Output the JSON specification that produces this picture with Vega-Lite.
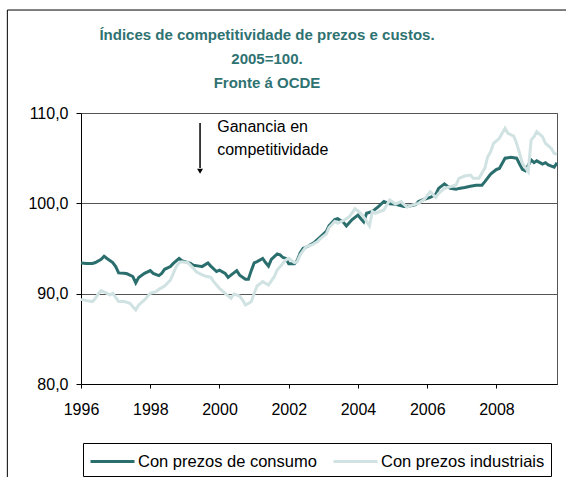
{
  "$schema": "https://vega.github.io/schema/vega-lite/v6.json",
  "width": 476,
  "height": 271,
  "autosize": {"type": "none"},
  "padding": {"left": 81, "top": 113, "right": 9, "bottom": 93},
  "background": "white",
  "title": {
    "text": ["Índices de competitividade de prezos e custos.", "2005=100.", "Fronte á OCDE"],
    "font": "Liberation Sans",
    "fontSize": 15,
    "fontWeight": "bold",
    "color": "#2F7272",
    "lineHeight": 24,
    "anchor": "middle",
    "frame": "group",
    "dx": -52,
    "dy": 95.5,
    "offset": 14
  },
  "datasets": {
    "series": [
      {"date": "1996-01-01", "series": "Con prezos de consumo", "value": 93.4},
      {"date": "1996-03-01", "series": "Con prezos de consumo", "value": 93.35},
      {"date": "1996-05-01", "series": "Con prezos de consumo", "value": 93.35},
      {"date": "1996-06-01", "series": "Con prezos de consumo", "value": 93.45},
      {"date": "1996-08-01", "series": "Con prezos de consumo", "value": 93.8},
      {"date": "1996-09-01", "series": "Con prezos de consumo", "value": 94.15},
      {"date": "1996-10-01", "series": "Con prezos de consumo", "value": 93.9},
      {"date": "1996-12-01", "series": "Con prezos de consumo", "value": 93.45},
      {"date": "1997-01-01", "series": "Con prezos de consumo", "value": 93.0},
      {"date": "1997-02-01", "series": "Con prezos de consumo", "value": 92.3},
      {"date": "1997-04-01", "series": "Con prezos de consumo", "value": 92.25},
      {"date": "1997-05-01", "series": "Con prezos de consumo", "value": 92.2},
      {"date": "1997-07-01", "series": "Con prezos de consumo", "value": 91.9},
      {"date": "1997-08-01", "series": "Con prezos de consumo", "value": 91.2},
      {"date": "1997-09-01", "series": "Con prezos de consumo", "value": 91.8},
      {"date": "1997-11-01", "series": "Con prezos de consumo", "value": 92.25},
      {"date": "1998-01-01", "series": "Con prezos de consumo", "value": 92.55},
      {"date": "1998-02-01", "series": "Con prezos de consumo", "value": 92.25},
      {"date": "1998-04-01", "series": "Con prezos de consumo", "value": 92.0},
      {"date": "1998-05-01", "series": "Con prezos de consumo", "value": 92.25},
      {"date": "1998-06-01", "series": "Con prezos de consumo", "value": 92.7},
      {"date": "1998-08-01", "series": "Con prezos de consumo", "value": 93.0},
      {"date": "1998-09-01", "series": "Con prezos de consumo", "value": 93.35},
      {"date": "1998-11-01", "series": "Con prezos de consumo", "value": 93.9},
      {"date": "1998-12-01", "series": "Con prezos de consumo", "value": 93.65},
      {"date": "1999-01-01", "series": "Con prezos de consumo", "value": 93.55},
      {"date": "1999-03-01", "series": "Con prezos de consumo", "value": 93.35},
      {"date": "1999-04-01", "series": "Con prezos de consumo", "value": 93.15},
      {"date": "1999-06-01", "series": "Con prezos de consumo", "value": 93.05},
      {"date": "1999-07-01", "series": "Con prezos de consumo", "value": 93.0},
      {"date": "1999-09-01", "series": "Con prezos de consumo", "value": 93.4},
      {"date": "1999-10-01", "series": "Con prezos de consumo", "value": 93.05},
      {"date": "1999-12-01", "series": "Con prezos de consumo", "value": 92.45},
      {"date": "2000-01-01", "series": "Con prezos de consumo", "value": 92.6},
      {"date": "2000-03-01", "series": "Con prezos de consumo", "value": 92.25},
      {"date": "2000-04-01", "series": "Con prezos de consumo", "value": 91.8},
      {"date": "2000-05-01", "series": "Con prezos de consumo", "value": 92.05},
      {"date": "2000-07-01", "series": "Con prezos de consumo", "value": 92.55},
      {"date": "2000-08-01", "series": "Con prezos de consumo", "value": 92.05},
      {"date": "2000-10-01", "series": "Con prezos de consumo", "value": 91.6},
      {"date": "2000-11-01", "series": "Con prezos de consumo", "value": 91.6},
      {"date": "2000-12-01", "series": "Con prezos de consumo", "value": 92.55},
      {"date": "2001-01-01", "series": "Con prezos de consumo", "value": 93.4},
      {"date": "2001-02-01", "series": "Con prezos de consumo", "value": 93.55},
      {"date": "2001-04-01", "series": "Con prezos de consumo", "value": 93.9},
      {"date": "2001-05-01", "series": "Con prezos de consumo", "value": 93.45},
      {"date": "2001-06-01", "series": "Con prezos de consumo", "value": 93.05},
      {"date": "2001-07-01", "series": "Con prezos de consumo", "value": 93.8},
      {"date": "2001-09-01", "series": "Con prezos de consumo", "value": 94.4},
      {"date": "2001-10-01", "series": "Con prezos de consumo", "value": 94.3},
      {"date": "2001-11-01", "series": "Con prezos de consumo", "value": 94.0},
      {"date": "2001-12-01", "series": "Con prezos de consumo", "value": 93.9},
      {"date": "2002-01-01", "series": "Con prezos de consumo", "value": 93.3},
      {"date": "2002-03-01", "series": "Con prezos de consumo", "value": 93.3},
      {"date": "2002-04-01", "series": "Con prezos de consumo", "value": 93.7},
      {"date": "2002-05-01", "series": "Con prezos de consumo", "value": 94.5},
      {"date": "2002-06-01", "series": "Con prezos de consumo", "value": 95.0},
      {"date": "2002-08-01", "series": "Con prezos de consumo", "value": 95.3},
      {"date": "2002-10-01", "series": "Con prezos de consumo", "value": 95.7},
      {"date": "2002-12-01", "series": "Con prezos de consumo", "value": 96.3},
      {"date": "2003-02-01", "series": "Con prezos de consumo", "value": 96.9},
      {"date": "2003-03-01", "series": "Con prezos de consumo", "value": 97.5},
      {"date": "2003-05-01", "series": "Con prezos de consumo", "value": 98.2},
      {"date": "2003-06-01", "series": "Con prezos de consumo", "value": 98.3},
      {"date": "2003-08-01", "series": "Con prezos de consumo", "value": 97.9},
      {"date": "2003-09-01", "series": "Con prezos de consumo", "value": 97.5},
      {"date": "2003-11-01", "series": "Con prezos de consumo", "value": 98.2},
      {"date": "2004-01-01", "series": "Con prezos de consumo", "value": 98.7},
      {"date": "2004-02-01", "series": "Con prezos de consumo", "value": 98.3},
      {"date": "2004-03-01", "series": "Con prezos de consumo", "value": 97.95},
      {"date": "2004-04-01", "series": "Con prezos de consumo", "value": 98.9},
      {"date": "2004-06-01", "series": "Con prezos de consumo", "value": 99.1},
      {"date": "2004-08-01", "series": "Con prezos de consumo", "value": 99.6},
      {"date": "2004-10-01", "series": "Con prezos de consumo", "value": 100.2},
      {"date": "2004-12-01", "series": "Con prezos de consumo", "value": 99.95},
      {"date": "2005-02-01", "series": "Con prezos de consumo", "value": 99.9},
      {"date": "2005-05-01", "series": "Con prezos de consumo", "value": 99.65},
      {"date": "2005-07-01", "series": "Con prezos de consumo", "value": 99.7},
      {"date": "2005-09-01", "series": "Con prezos de consumo", "value": 99.85},
      {"date": "2005-10-01", "series": "Con prezos de consumo", "value": 100.2},
      {"date": "2005-12-01", "series": "Con prezos de consumo", "value": 100.45},
      {"date": "2006-02-01", "series": "Con prezos de consumo", "value": 100.65},
      {"date": "2006-04-01", "series": "Con prezos de consumo", "value": 101.0},
      {"date": "2006-05-01", "series": "Con prezos de consumo", "value": 101.65},
      {"date": "2006-07-01", "series": "Con prezos de consumo", "value": 102.15},
      {"date": "2006-08-01", "series": "Con prezos de consumo", "value": 101.9},
      {"date": "2006-09-01", "series": "Con prezos de consumo", "value": 101.65},
      {"date": "2006-11-01", "series": "Con prezos de consumo", "value": 101.55},
      {"date": "2006-12-01", "series": "Con prezos de consumo", "value": 101.65},
      {"date": "2007-02-01", "series": "Con prezos de consumo", "value": 101.75},
      {"date": "2007-04-01", "series": "Con prezos de consumo", "value": 101.9},
      {"date": "2007-06-01", "series": "Con prezos de consumo", "value": 102.0},
      {"date": "2007-08-01", "series": "Con prezos de consumo", "value": 102.0},
      {"date": "2007-09-01", "series": "Con prezos de consumo", "value": 102.4},
      {"date": "2007-11-01", "series": "Con prezos de consumo", "value": 103.25},
      {"date": "2007-12-01", "series": "Con prezos de consumo", "value": 103.5},
      {"date": "2008-01-01", "series": "Con prezos de consumo", "value": 103.75},
      {"date": "2008-02-01", "series": "Con prezos de consumo", "value": 103.85},
      {"date": "2008-03-01", "series": "Con prezos de consumo", "value": 104.4},
      {"date": "2008-04-01", "series": "Con prezos de consumo", "value": 105.0},
      {"date": "2008-06-01", "series": "Con prezos de consumo", "value": 105.1},
      {"date": "2008-08-01", "series": "Con prezos de consumo", "value": 105.0},
      {"date": "2008-09-01", "series": "Con prezos de consumo", "value": 104.35},
      {"date": "2008-10-01", "series": "Con prezos de consumo", "value": 103.75},
      {"date": "2008-11-01", "series": "Con prezos de consumo", "value": 103.6},
      {"date": "2009-01-01", "series": "Con prezos de consumo", "value": 104.8},
      {"date": "2009-02-01", "series": "Con prezos de consumo", "value": 104.5},
      {"date": "2009-03-01", "series": "Con prezos de consumo", "value": 104.7},
      {"date": "2009-05-01", "series": "Con prezos de consumo", "value": 104.35},
      {"date": "2009-06-01", "series": "Con prezos de consumo", "value": 104.5},
      {"date": "2009-07-01", "series": "Con prezos de consumo", "value": 104.25},
      {"date": "2009-09-01", "series": "Con prezos de consumo", "value": 104.0},
      {"date": "2009-10-01", "series": "Con prezos de consumo", "value": 104.5},
      {"date": "1996-01-01", "series": "Con prezos industriais", "value": 89.37},
      {"date": "1996-03-01", "series": "Con prezos industriais", "value": 89.23},
      {"date": "1996-05-01", "series": "Con prezos industriais", "value": 89.12},
      {"date": "1996-06-01", "series": "Con prezos industriais", "value": 89.48},
      {"date": "1996-07-01", "series": "Con prezos industriais", "value": 89.96},
      {"date": "1996-08-01", "series": "Con prezos industriais", "value": 90.33},
      {"date": "1996-10-01", "series": "Con prezos industriais", "value": 90.04},
      {"date": "1996-11-01", "series": "Con prezos industriais", "value": 89.85},
      {"date": "1996-12-01", "series": "Con prezos industriais", "value": 90.04},
      {"date": "1997-01-01", "series": "Con prezos industriais", "value": 89.59},
      {"date": "1997-02-01", "series": "Con prezos industriais", "value": 89.12},
      {"date": "1997-04-01", "series": "Con prezos industriais", "value": 89.12},
      {"date": "1997-06-01", "series": "Con prezos industriais", "value": 88.93},
      {"date": "1997-07-01", "series": "Con prezos industriais", "value": 88.56},
      {"date": "1997-08-01", "series": "Con prezos industriais", "value": 88.19},
      {"date": "1997-09-01", "series": "Con prezos industriais", "value": 88.75},
      {"date": "1997-11-01", "series": "Con prezos industriais", "value": 89.3},
      {"date": "1998-01-01", "series": "Con prezos industriais", "value": 90.04},
      {"date": "1998-03-01", "series": "Con prezos industriais", "value": 90.22},
      {"date": "1998-04-01", "series": "Con prezos industriais", "value": 90.48},
      {"date": "1998-06-01", "series": "Con prezos industriais", "value": 90.85},
      {"date": "1998-08-01", "series": "Con prezos industriais", "value": 91.51},
      {"date": "1998-09-01", "series": "Con prezos industriais", "value": 92.25},
      {"date": "1998-10-01", "series": "Con prezos industriais", "value": 92.99},
      {"date": "1998-11-01", "series": "Con prezos industriais", "value": 93.43},
      {"date": "1998-12-01", "series": "Con prezos industriais", "value": 93.54},
      {"date": "1999-02-01", "series": "Con prezos industriais", "value": 93.43},
      {"date": "1999-04-01", "series": "Con prezos industriais", "value": 92.8},
      {"date": "1999-05-01", "series": "Con prezos industriais", "value": 92.43},
      {"date": "1999-06-01", "series": "Con prezos industriais", "value": 92.25},
      {"date": "1999-08-01", "series": "Con prezos industriais", "value": 91.95},
      {"date": "1999-10-01", "series": "Con prezos industriais", "value": 91.81},
      {"date": "1999-11-01", "series": "Con prezos industriais", "value": 91.33},
      {"date": "2000-01-01", "series": "Con prezos industriais", "value": 90.59},
      {"date": "2000-03-01", "series": "Con prezos industriais", "value": 90.04},
      {"date": "2000-05-01", "series": "Con prezos industriais", "value": 89.48},
      {"date": "2000-06-01", "series": "Con prezos industriais", "value": 89.96},
      {"date": "2000-08-01", "series": "Con prezos industriais", "value": 89.74},
      {"date": "2000-09-01", "series": "Con prezos industriais", "value": 89.3},
      {"date": "2000-10-01", "series": "Con prezos industriais", "value": 88.75},
      {"date": "2000-12-01", "series": "Con prezos industriais", "value": 89.11},
      {"date": "2001-01-01", "series": "Con prezos industriais", "value": 90.04},
      {"date": "2001-02-01", "series": "Con prezos industriais", "value": 90.85},
      {"date": "2001-04-01", "series": "Con prezos industriais", "value": 91.33},
      {"date": "2001-06-01", "series": "Con prezos industriais", "value": 90.96},
      {"date": "2001-08-01", "series": "Con prezos industriais", "value": 91.88},
      {"date": "2001-09-01", "series": "Con prezos industriais", "value": 92.62},
      {"date": "2001-11-01", "series": "Con prezos industriais", "value": 93.36},
      {"date": "2001-12-01", "series": "Con prezos industriais", "value": 93.73},
      {"date": "2002-01-01", "series": "Con prezos industriais", "value": 93.91},
      {"date": "2002-03-01", "series": "Con prezos industriais", "value": 93.43},
      {"date": "2002-04-01", "series": "Con prezos industriais", "value": 93.54},
      {"date": "2002-05-01", "series": "Con prezos industriais", "value": 94.28},
      {"date": "2002-07-01", "series": "Con prezos industriais", "value": 95.2},
      {"date": "2002-09-01", "series": "Con prezos industriais", "value": 95.39},
      {"date": "2002-11-01", "series": "Con prezos industriais", "value": 95.76},
      {"date": "2002-12-01", "series": "Con prezos industriais", "value": 96.1},
      {"date": "2003-02-01", "series": "Con prezos industriais", "value": 96.6},
      {"date": "2003-03-01", "series": "Con prezos industriais", "value": 97.3},
      {"date": "2003-05-01", "series": "Con prezos industriais", "value": 98.0},
      {"date": "2003-06-01", "series": "Con prezos industriais", "value": 97.8},
      {"date": "2003-08-01", "series": "Con prezos industriais", "value": 98.1},
      {"date": "2003-10-01", "series": "Con prezos industriais", "value": 98.5},
      {"date": "2003-12-01", "series": "Con prezos industriais", "value": 99.4},
      {"date": "2004-02-01", "series": "Con prezos industriais", "value": 98.9},
      {"date": "2004-03-01", "series": "Con prezos industriais", "value": 98.5},
      {"date": "2004-05-01", "series": "Con prezos industriais", "value": 97.5},
      {"date": "2004-06-01", "series": "Con prezos industriais", "value": 99.1},
      {"date": "2004-07-01", "series": "Con prezos industriais", "value": 98.9},
      {"date": "2004-10-01", "series": "Con prezos industriais", "value": 99.26},
      {"date": "2004-12-01", "series": "Con prezos industriais", "value": 100.37},
      {"date": "2005-02-01", "series": "Con prezos industriais", "value": 99.93},
      {"date": "2005-04-01", "series": "Con prezos industriais", "value": 100.19},
      {"date": "2005-06-01", "series": "Con prezos industriais", "value": 99.56},
      {"date": "2005-08-01", "series": "Con prezos industriais", "value": 99.82},
      {"date": "2005-10-01", "series": "Con prezos industriais", "value": 100.0},
      {"date": "2005-12-01", "series": "Con prezos industriais", "value": 100.44},
      {"date": "2006-02-01", "series": "Con prezos industriais", "value": 101.29},
      {"date": "2006-04-01", "series": "Con prezos industriais", "value": 100.66},
      {"date": "2006-05-01", "series": "Con prezos industriais", "value": 101.1},
      {"date": "2006-07-01", "series": "Con prezos industriais", "value": 101.66},
      {"date": "2006-09-01", "series": "Con prezos industriais", "value": 101.84},
      {"date": "2006-11-01", "series": "Con prezos industriais", "value": 102.03},
      {"date": "2006-12-01", "series": "Con prezos industriais", "value": 102.77},
      {"date": "2007-02-01", "series": "Con prezos industriais", "value": 103.02},
      {"date": "2007-04-01", "series": "Con prezos industriais", "value": 103.13},
      {"date": "2007-05-01", "series": "Con prezos industriais", "value": 102.77},
      {"date": "2007-07-01", "series": "Con prezos industriais", "value": 102.77},
      {"date": "2007-09-01", "series": "Con prezos industriais", "value": 103.9},
      {"date": "2007-10-01", "series": "Con prezos industriais", "value": 105.16},
      {"date": "2007-11-01", "series": "Con prezos industriais", "value": 105.72},
      {"date": "2007-12-01", "series": "Con prezos industriais", "value": 106.64},
      {"date": "2008-02-01", "series": "Con prezos industriais", "value": 107.2},
      {"date": "2008-03-01", "series": "Con prezos industriais", "value": 107.75},
      {"date": "2008-04-01", "series": "Con prezos industriais", "value": 108.3},
      {"date": "2008-05-01", "series": "Con prezos industriais", "value": 107.75},
      {"date": "2008-07-01", "series": "Con prezos industriais", "value": 107.45},
      {"date": "2008-08-01", "series": "Con prezos industriais", "value": 106.64},
      {"date": "2008-09-01", "series": "Con prezos industriais", "value": 105.53},
      {"date": "2008-10-01", "series": "Con prezos industriais", "value": 104.43},
      {"date": "2008-12-01", "series": "Con prezos industriais", "value": 103.5},
      {"date": "2009-01-01", "series": "Con prezos industriais", "value": 107.01},
      {"date": "2009-02-01", "series": "Con prezos industriais", "value": 107.38},
      {"date": "2009-03-01", "series": "Con prezos industriais", "value": 107.93},
      {"date": "2009-05-01", "series": "Con prezos industriais", "value": 107.38},
      {"date": "2009-06-01", "series": "Con prezos industriais", "value": 106.64},
      {"date": "2009-08-01", "series": "Con prezos industriais", "value": 106.09},
      {"date": "2009-09-01", "series": "Con prezos industriais", "value": 105.53},
      {"date": "2009-10-01", "series": "Con prezos industriais", "value": 105.46}
    ]
  },
  "layer": [
    {
      "data": {"values": [{"note": "frame"}]},
      "mark": {"type": "rect", "filled": false, "stroke": "#000000", "strokeWidth": 1},
      "encoding": {
        "x": {"datum": {"year": 1993, "month": 11, "date": 15}, "type": "temporal"},
        "x2": {"datum": {"year": 2012, "month": 1, "date": 1}},
        "y": {"datum": 121.4, "type": "quantitative"},
        "y2": {"datum": 60}
      }
    },
    {
      "data": {"name": "series"},
      "transform": [{"filter": "datum.series === 'Con prezos de consumo'"}],
      "mark": {"type": "line", "strokeWidth": 3},
      "encoding": {
        "x": {
          "field": "date",
          "type": "temporal",
          "scale": {
            "domain": [{"year": 1996, "month": 1, "date": 1}, {"year": 2009, "month": 10, "date": 1}]
          },
          "axis": {
            "title": null,
            "values": [
              {"year": 1996, "month": 1, "date": 1},
              {"year": 1998, "month": 1, "date": 1},
              {"year": 2000, "month": 1, "date": 1},
              {"year": 2002, "month": 1, "date": 1},
              {"year": 2004, "month": 1, "date": 1},
              {"year": 2006, "month": 1, "date": 1},
              {"year": 2008, "month": 1, "date": 1}
            ],
            "format": "%Y",
            "grid": false,
            "tickSize": 4,
            "labelPadding": 13,
            "labelFlush": false,
            "labelOverlap": false
          }
        },
        "y": {
          "field": "value",
          "type": "quantitative",
          "scale": {"domain": [80, 110], "nice": false, "zero": false},
          "axis": {
            "title": null,
            "values": [80, 90, 100, 110],
            "labelExpr": "replace(format(datum.value, '.1f'), '.', ',')",
            "grid": true,
            "tickSize": 5,
            "labelPadding": 8
          }
        },
        "color": {
          "field": "series",
          "type": "nominal",
          "scale": {"domain": ["Con prezos de consumo", "Con prezos industriais"], "range": ["#2B6E6E", "#D1E2E2"]},
          "legend": {"title": null}
        }
      }
    },
    {
      "data": {"name": "series"},
      "transform": [{"filter": "datum.series === 'Con prezos industriais'"}],
      "mark": {"type": "line", "strokeWidth": 3},
      "encoding": {
        "x": {"field": "date", "type": "temporal"},
        "y": {"field": "value", "type": "quantitative"},
        "color": {"field": "series", "type": "nominal"}
      }
    },
    {
      "data": {"values": [{"note": "arrow"}]},
      "mark": {"type": "rule", "color": "#000000", "strokeWidth": 1.5},
      "encoding": {
        "x": {"datum": {"year": 1999, "month": 6, "date": 10}, "type": "temporal"},
        "y": {"datum": 108.9, "type": "quantitative"},
        "y2": {"datum": 103.9}
      }
    },
    {
      "data": {"values": [{"note": "arrowhead"}]},
      "mark": {"type": "point", "shape": "triangle-down", "filled": true, "color": "#000000", "size": 35, "opacity": 1},
      "encoding": {
        "x": {"datum": {"year": 1999, "month": 6, "date": 10}, "type": "temporal"},
        "y": {"datum": 103.55, "type": "quantitative"}
      }
    },
    {
      "data": {"values": [{"note": "label"}]},
      "mark": {"type": "text", "text": ["Ganancia en", "competitividade"], "align": "left", "baseline": "alphabetic", "font": "Liberation Sans", "fontSize": 16, "lineHeight": 23, "color": "#000000"},
      "encoding": {
        "x": {"datum": {"year": 1999, "month": 12, "date": 8}, "type": "temporal"},
        "y": {"datum": 107.85, "type": "quantitative"}
      }
    }
  ],
  "config": {
    "font": "Liberation Sans",
    "view": {"stroke": "#555555", "strokeWidth": 1},
    "axis": {
      "labelFont": "Liberation Sans",
      "labelFontSize": 16,
      "labelColor": "#000000",
      "domainColor": "#000000",
      "tickColor": "#000000",
      "gridColor": "#555555",
      "gridOpacity": 1,
      "domainWidth": 1,
      "tickWidth": 1
    },
    "legend": {
      "orient": "none",
      "legendX": 2,
      "legendY": 330,
      "direction": "horizontal",
      "strokeColor": "#000000",
      "fillColor": "#FFFFFF",
      "padding": 6,
      "symbolType": "M-2,0L2,0",
      "symbolSize": 484,
      "symbolOffset": 11,
      "symbolStrokeWidth": 3,
      "labelFont": "Liberation Sans",
      "labelFontSize": 16.5,
      "labelColor": "#000000",
      "labelOffset": 13,
      "columnPadding": 10,
      "labelLimit": 400
    }
  }
}
